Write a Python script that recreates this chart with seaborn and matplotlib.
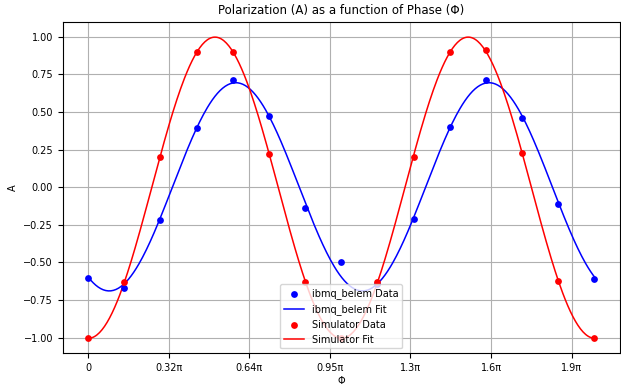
import numpy as np
import pandas as pd
import matplotlib
matplotlib.use("Agg")
import matplotlib.pyplot as plt
import seaborn as sns

# 15 phase settings from 0 to 2*pi
phase = np.linspace(0, 2 * np.pi, 15)

# values
belem_data = [-0.60, -0.67, -0.22, 0.39, 0.71, 0.47, -0.14, -0.50,
              -0.64, -0.21, 0.40, 0.71, 0.46, -0.11, -0.61]
sim_data = [-1.00, -0.63, 0.20, 0.90, 0.90, 0.22, -0.63, -1.00,
            -0.63, 0.20, 0.90, 0.91, 0.23, -0.62, -1.00]

tick_pos = [0, 1, 2, 3, 4, 5, 6]
tick_labels = ["0", "0.32π", "0.64π", "0.95π", "1.3π", "1.6π", "1.9π"]


def fit_curve(x, y, x_fine):
    # least squares fit of a*cos(2x) + b*sin(2x) + c
    M = np.column_stack([np.cos(2 * x), np.sin(2 * x), np.ones_like(x)])
    coef, *_ = np.linalg.lstsq(M, np.asarray(y), rcond=None)
    Mf = np.column_stack([np.cos(2 * x_fine), np.sin(2 * x_fine), np.ones_like(x_fine)])
    return Mf @ coef


x_fine = np.linspace(0, 2 * np.pi, 400)
df = pd.DataFrame({"phi": phase, "belem": belem_data, "sim": sim_data})
fit_df = pd.DataFrame({"phi": x_fine,
                       "belem": fit_curve(phase, belem_data, x_fine),
                       "sim": fit_curve(phase, sim_data, x_fine)})

plt.rcParams["font.size"] = 7
fig, ax = plt.subplots(figsize=(6.21, 3.87), dpi=100)

sns.scatterplot(data=df, x="phi", y="belem", color="blue", s=24, linewidth=0,
                label="ibmq_belem Data", ax=ax, zorder=3)
sns.lineplot(data=fit_df, x="phi", y="belem", color="blue", linewidth=1.1,
             label="ibmq_belem Fit", ax=ax)
sns.scatterplot(data=df, x="phi", y="sim", color="red", s=24, linewidth=0,
                label="Simulator Data", ax=ax, zorder=3)
sns.lineplot(data=fit_df, x="phi", y="sim", color="red", linewidth=1.1,
             label="Simulator Fit", ax=ax)

ax.set_xticks(tick_pos)
ax.set_xticklabels(tick_labels)
ax.set_title("Polarization (A) as a function of Phase (Φ)", fontsize=8.5)
ax.set_xlabel("Φ", labelpad=2)
ax.set_ylabel("A")
ax.grid(True)
ax.legend(loc="lower center", fontsize=7)

fig.subplots_adjust(left=0.101, right=0.998, top=0.943, bottom=0.087)
fig.savefig("out.png", dpi=100)
